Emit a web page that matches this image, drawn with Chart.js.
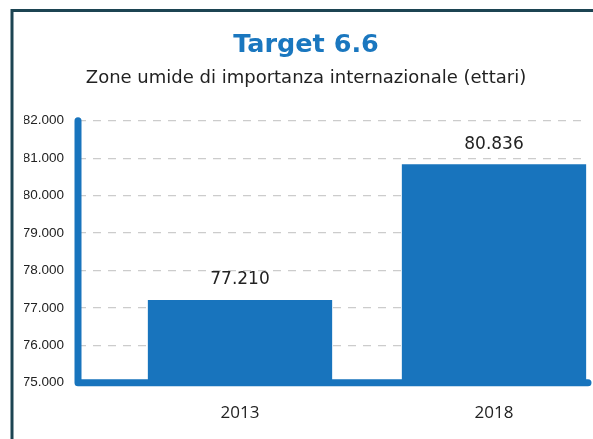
<!DOCTYPE html>
<html>
<head>
<meta charset="utf-8">
<script src="https://cdn.jsdelivr.net/npm/chart.js@4"></script>
<style>
  html, body { margin: 0; padding: 0; background: #fff; overflow: hidden; width: 593px; height: 439px; }
  canvas { display: block; }
</style>
</head>
<body>
<canvas id="c" width="640" height="439"></canvas>
<script>
const titleText = 'Target 6.6';
const subtitleText = 'Zone umide di importanza internazionale (ettari)';
const categories = ['2013', '2018'];
const values = [77210, 80836];
const yMin = 75000;
const yMax = 82000;
const yStep = 1000;

const BLUE = '#1874bd';

function fmt(n) {
  return String(Math.round(n)).replace(/\B(?=(\d{3})+(?!\d))/g, '.');
}

const frame = {
  id: 'frame',
  beforeDraw(chart) {
    const ctx = chart.ctx;
    ctx.save();
    ctx.strokeStyle = '#1c4452';
    ctx.lineWidth = 3;
    ctx.beginPath();
    ctx.moveTo(12, 500);
    ctx.lineTo(12, 10.5);
    ctx.lineTo(700, 10.5);
    ctx.stroke();
    ctx.restore();
  }
};

const axisLines = {
  id: 'axisLines',
  afterDatasetsDraw(chart) {
    const ctx = chart.ctx;
    const x = chart.scales.x, y = chart.scales.y;
    const left = x.left, right = x.right;
    const top = y.getPixelForValue(yMax), bottom = y.getPixelForValue(yMin);
    ctx.save();
    ctx.strokeStyle = BLUE;
    ctx.lineWidth = 7;
    ctx.lineCap = 'round';
    ctx.lineJoin = 'round';
    ctx.beginPath();
    ctx.moveTo(left, top);
    ctx.lineTo(left, bottom);
    ctx.lineTo(right, bottom);
    ctx.stroke();
    ctx.restore();
  }
};

const valueLabels = {
  id: 'valueLabels',
  afterDatasetsDraw(chart) {
    const ctx = chart.ctx;
    const meta = chart.getDatasetMeta(0);
    ctx.save();
    ctx.font = '17px "DejaVu Sans"';
    ctx.fillStyle = '#222';
    ctx.textAlign = 'center';
    ctx.textBaseline = 'middle';
    meta.data.forEach((bar, i) => {
      ctx.fillText(fmt(values[i]), bar.x, bar.y - 20);
    });
    ctx.restore();
  }
};

new Chart(document.getElementById('c'), {
  type: 'bar',
  data: {
    datasets: [{
      data: categories.map((c, i) => ({ x: i, y: values[i] })),
      backgroundColor: BLUE,
      borderWidth: 0,
      categoryPercentage: 1,
      barPercentage: 0.7256
    }]
  },
  options: {
    responsive: false,
    animation: false,
    events: [],
    layout: { padding: { left: 24, right: 52, top: 0, bottom: 0 } },
    plugins: {
      legend: { display: false },
      tooltip: { enabled: false },
      title: {
        display: true,
        text: titleText,
        color: '#1a77bf',
        font: { family: 'DejaVu Sans', size: 25.5, weight: 'bold', lineHeight: 1.2 },
        padding: { top: 30, bottom: 0 }
      },
      subtitle: {
        display: true,
        text: subtitleText,
        color: '#222',
        font: { family: 'DejaVu Sans', size: 18, lineHeight: 1.2 },
        padding: { top: 7, bottom: 31.5 }
      }
    },
    scales: {
      x: {
        type: 'linear',
        offset: false,
        bounds: 'data',
        min: -0.6378,
        max: 1.3701,
        afterBuildTicks(scale) { scale.ticks = categories.map((c, i) => ({ value: i })); },
        afterFit(scale) { scale.height = 56.3; },
        grid: { display: false, drawTicks: false, offset: false },
        border: { display: false },
        ticks: {
          padding: 20,
          color: '#222',
          font: { family: 'Open Sans', size: 17 },
          callback: (v) => categories[v] ?? ''
        }
      },
      y: {
        min: yMin,
        max: yMax,
        afterFit(scale) { scale.width = 54; },
        grid: { color: '#cccccc', lineWidth: 1.2, drawTicks: false },
        border: { display: false, dash: [8, 7] },
        ticks: {
          stepSize: yStep,
          padding: 14,
          color: '#222',
          font: { family: 'Liberation Sans', size: 13.5 },
          callback: (v) => fmt(v)
        }
      }
    }
  },
  plugins: [frame, axisLines, valueLabels]
});
</script>
</body>
</html>
